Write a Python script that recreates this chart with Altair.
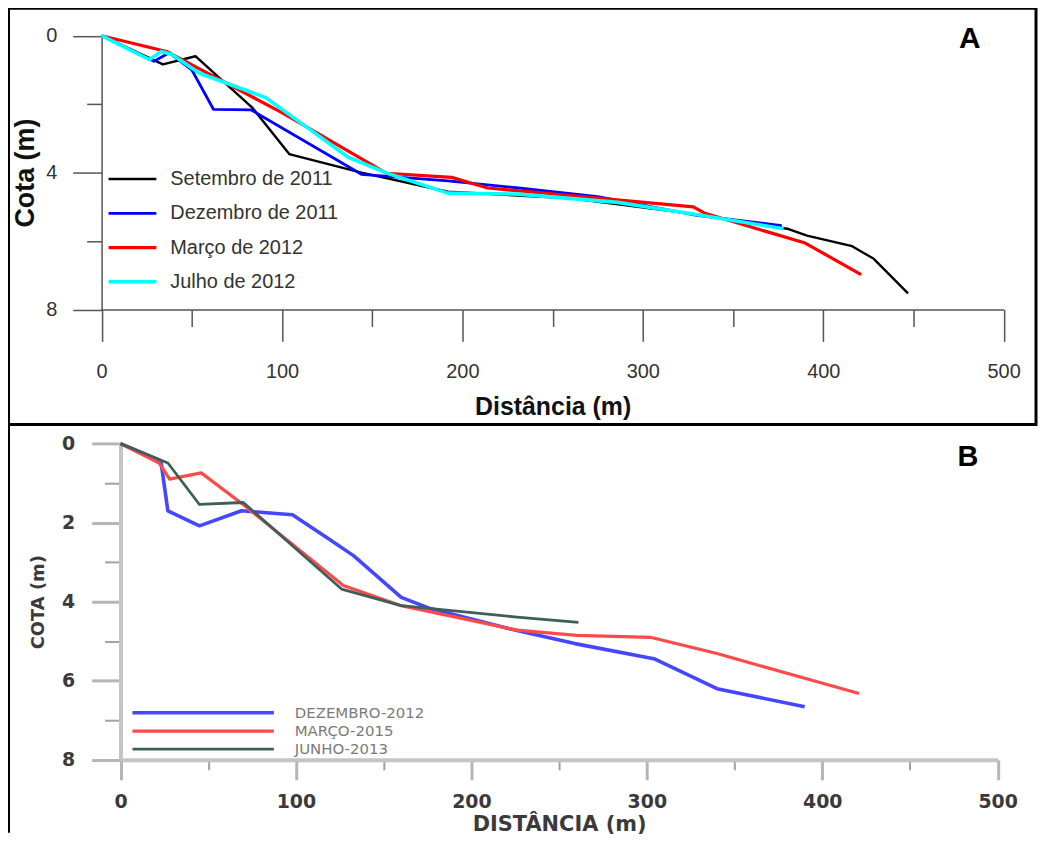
import altair as alt
import pandas as pd

# ---------------- Panel A data ----------------
A_SERIES = ["Setembro de 2011", "Dezembro de 2011", "Março de 2012", "Julho de 2012"]
A_COLORS = ["#000000", "#0000ff", "#ff0000", "#00ffff"]
A_WIDTHS = [2.4, 3.6, 2.8, 3.8]

set11_x = [0, 34, 52, 83.5, 104, 144, 192, 260, 330, 380, 391, 416, 428, 447]
set11_y = [0, 0.84, 0.6, 2.1, 3.46, 4.0, 4.56, 4.75, 5.22, 5.64, 5.84, 6.15, 6.52, 7.53]
dez11_x = [0, 29, 37.5, 50, 62, 83, 144, 192, 231, 275, 330, 377]
dez11_y = [0, 0.75, 0.5, 1.0, 2.15, 2.17, 4.05, 4.24, 4.45, 4.7, 5.25, 5.55]
mar12_x = [0, 36, 100, 158, 194, 214, 328, 334, 390, 421]
mar12_y = [0, 0.46, 2.25, 4.02, 4.14, 4.45, 5.0, 5.18, 6.06, 6.98]
jul12_x = [0, 26.5, 33, 39, 54, 91, 137, 160, 192, 231, 286, 334, 378]
jul12_y = [0, 0.7, 0.46, 0.55, 1.09, 1.81, 3.56, 4.05, 4.6, 4.63, 4.87, 5.26, 5.64]

# ---------------- Panel B data ----------------
B_SERIES = ["DEZEMBRO-2012", "MARÇO-2015", "JUNHO-2013"]
B_COLORS = ["#4646ff", "#ff4a4a", "#3d5f58"]
B_WIDTHS = [3.6, 2.8, 3.8]

dez12_x = [0, 23, 27, 45, 69, 98, 119, 133, 160, 177, 226, 259, 304, 340, 390]
dez12_y = [0, 0.44, 1.7, 2.08, 1.7, 1.8, 2.42, 2.84, 3.89, 4.18, 4.73, 5.06, 5.44, 6.2, 6.66]
mar13_x = [0, 22, 28, 46, 71, 127, 160, 226, 260, 302, 340, 387, 421]
mar13_y = [0, 0.49, 0.9, 0.74, 1.58, 3.59, 4.1, 4.72, 4.85, 4.9, 5.31, 5.9, 6.32]
jun13_x = [0, 27, 45, 70, 126, 160, 226, 261]
jun13_y = [0, 0.49, 1.54, 1.49, 3.68, 4.1, 4.39, 4.52]

X_MAJOR = [0, 100, 200, 300, 400, 500]
X_MINOR = [50, 150, 250, 350, 450]
A_Y_MAJOR = [0, 4, 8]
A_Y_MINOR = [2, 6]
B_Y_MAJOR = [0, 2, 4, 6, 8]
B_Y_MINOR = [1, 3, 5, 7]


def frame(key, series, xs, ys):
    rows = []
    for s, xl, yl in zip(series, xs, ys):
        for i, (a, b) in enumerate(zip(xl, yl)):
            rows.append({key: s, "dist": a, "cota": b, "ord": i})
    return pd.DataFrame(rows)


dfA = frame("serieA", A_SERIES, [set11_x, dez11_x, mar12_x, jul12_x], [set11_y, dez11_y, mar12_y, jul12_y])
dfB = frame("serieB", B_SERIES, [dez12_x, mar13_x, jun13_x], [dez12_y, mar13_y, jun13_y])

FA = "Liberation Sans"
FB = "DejaVu Sans"

# ---------------- layout constants (pixels within each panel view) ----------------
W = 1032
HA = 418
HB = 410
AX_RANGE = [93.5, 999.5]
AY_RANGE = [27.5, 302.5]
BX_RANGE = [112.5, 993.5]
BY_RANGE = [19.2, 336.8]


def panel(df, key, series, colors, widths, xr, yr, h, y_major, y_minor, st, legend):
    xs = alt.Scale(domain=[0, 500], range=xr, nice=False, zero=False)
    ys = alt.Scale(domain=[0, 8], range=yr, nice=False, zero=False)
    x_off = -(h - yr[1])
    y_off = -xr[0]
    lines = alt.Chart(df).mark_line(strokeCap="butt", strokeJoin="round").encode(
        x=alt.X("dist:Q", scale=xs, axis=alt.Axis(
            values=X_MAJOR, orient="bottom", offset=x_off, grid=False,
            tickSize=st["xt"], tickColor=st["tc"], tickWidth=st["tw"],
            domainColor=st["dc"], domainWidth=st["dw"],
            labelFont=st["lf"], labelFontSize=st["lfs"], labelFontWeight=st["lfw"],
            labelColor=st["lc"], labelPadding=st["xlp"], labelFlush=False, labelOverlap=False,
            title=st["xtitle"], titleFont=st["lf"], titleFontSize=st["xtfs"], titleFontWeight="bold",
            titleColor=st["tcol"], titlePadding=st["xtp"])),
        y=alt.Y("cota:Q", scale=ys, axis=alt.Axis(
            values=y_major, orient="left", offset=y_off, grid=False,
            tickSize=st["yt"], tickColor=st["tc"], tickWidth=st["tw"],
            domainColor=st["dc"], domainWidth=st["dw"],
            labelFont=st["lf"], labelFontSize=st["lfs"], labelFontWeight=st["lfw"],
            labelColor=st["lc"], labelPadding=st["ylp"], labelFlush=False, labelOverlap=False,
            title=st["ytitle"], titleFont=st["lf"], titleFontSize=st["ytfs"], titleFontWeight="bold",
            titleColor=st["tcol"], titlePadding=st["ytp"])),
        color=alt.Color(key + ":N", scale=alt.Scale(domain=series, range=colors), legend=legend),
        strokeWidth=alt.StrokeWidth(key + ":N", scale=alt.Scale(domain=series, range=widths), legend=legend),
        order="ord:Q",
    )
    minor = alt.Chart(df).mark_point(opacity=0, size=1).encode(
        x=alt.X("dist:Q", scale=xs, axis=alt.Axis(
            values=X_MINOR, orient="bottom", offset=x_off, grid=False, labels=False, domain=False,
            tickSize=st["xmt"], tickColor=st["mtc"], tickWidth=st["mtw"], title=None)),
        y=alt.Y("cota:Q", scale=ys, axis=alt.Axis(
            values=y_minor, orient="left", offset=y_off, grid=False, labels=False, domain=False,
            tickSize=st["ymt"], tickColor=st["mtc"], tickWidth=st["mtw"], title=None)),
    )
    return lines, minor


stA = dict(xt=32, yt=29, xmt=17, ymt=15, tc="#555555", tw=1.5, mtc="#555555", mtw=1.5,
           dc="#555555", dw=1.5, lf=FA, lfs=20, lfw="normal", lc="#333333", xlp=20, ylp=16,
           xtitle="Distância (m)", ytitle="Cota (m)", xtfs=25, ytfs=27, tcol="#111111",
           xtp=13, ytp=6)
stB = dict(xt=20, yt=29, xmt=10, ymt=16, tc="#b5b5b5", tw=3, mtc="#a0a0a0", mtw=2,
           dc="#c4c4c4", dw=4, lf=FB, lfs=19, lfw="bold", lc="#3a3a3a", xlp=13, ylp=17,
           xtitle="DISTÂNCIA (m)", ytitle="COTA (m)", xtfs=21, ytfs=18, tcol="#3a3a3a",
           xtp=2, ytp=14)

# legend symbols: a horizontal stroke path, longer than the symbol box
legA = alt.Legend(orient="none", legendX=114.5, legendY=161.5, title=None,
                  symbolType="M-3,0H3", symbolSize=16 * 16, labelOffset=28,
                  labelFont=FA, labelFontSize=20, labelLimit=0,
                  labelColor="#333333", rowPadding=14.4, padding=0, symbolOpacity=1)
legB = alt.Legend(orient="none", legendX=186.5, legendY=280.5, title=None,
                  symbolType="M-10.143,0H10.143", symbolSize=14 * 14, labelOffset=83,
                  labelFont=FB, labelFontSize=15, labelLimit=0,
                  labelColor="#7a7a7a", rowPadding=1.5, padding=0, symbolOpacity=1)

linesA, minorA = panel(dfA, "serieA", A_SERIES, A_COLORS, A_WIDTHS, AX_RANGE, AY_RANGE, HA,
                       A_Y_MAJOR, A_Y_MINOR, stA, legA)
linesB, minorB = panel(dfB, "serieB", B_SERIES, B_COLORS, B_WIDTHS, BX_RANGE, BY_RANGE, HB,
                       B_Y_MAJOR, B_Y_MINOR, stB, legB)

tagA = alt.Chart(pd.DataFrame({"t": ["A"]})).mark_text(
    font=FA, fontSize=30, fontWeight="bold", color="black", align="center", baseline="middle"
).encode(x=alt.value(965.5), y=alt.value(30.5), text="t:N")
tagB = alt.Chart(pd.DataFrame({"t": ["B"]})).mark_text(
    font=FA, fontSize=29, fontWeight="bold", color="black", align="center", baseline="middle"
).encode(x=alt.value(963.5), y=alt.value(32.5), text="t:N")

borderB = alt.Chart(pd.DataFrame({"k": [0]})).mark_rule(color="black", strokeWidth=3).encode(
    x=alt.value(0), y=alt.value(0), y2=alt.value(HB))

panelA = alt.layer(minorA, linesA, tagA).resolve_scale(x="independent", y="independent").properties(
    width=W, height=HA, view=alt.ViewBackground(stroke="black", strokeWidth=3))
panelB = alt.layer(minorB, linesB, tagB, borderB).resolve_scale(x="independent", y="independent").properties(
    width=W, height=HB, view=alt.ViewBackground(stroke="transparent"))

chart = alt.vconcat(panelA, panelB, spacing=0, bounds="flush").resolve_scale(
    color="independent", strokeWidth="independent"
).resolve_legend(color="independent", strokeWidth="independent").properties(
    padding={"left": -1.5, "top": -3.5, "right": 0, "bottom": 0}, background="white"
).configure_view(stroke="transparent")

chart.save("out.html", embed_options={"renderer": "svg", "actions": False})
